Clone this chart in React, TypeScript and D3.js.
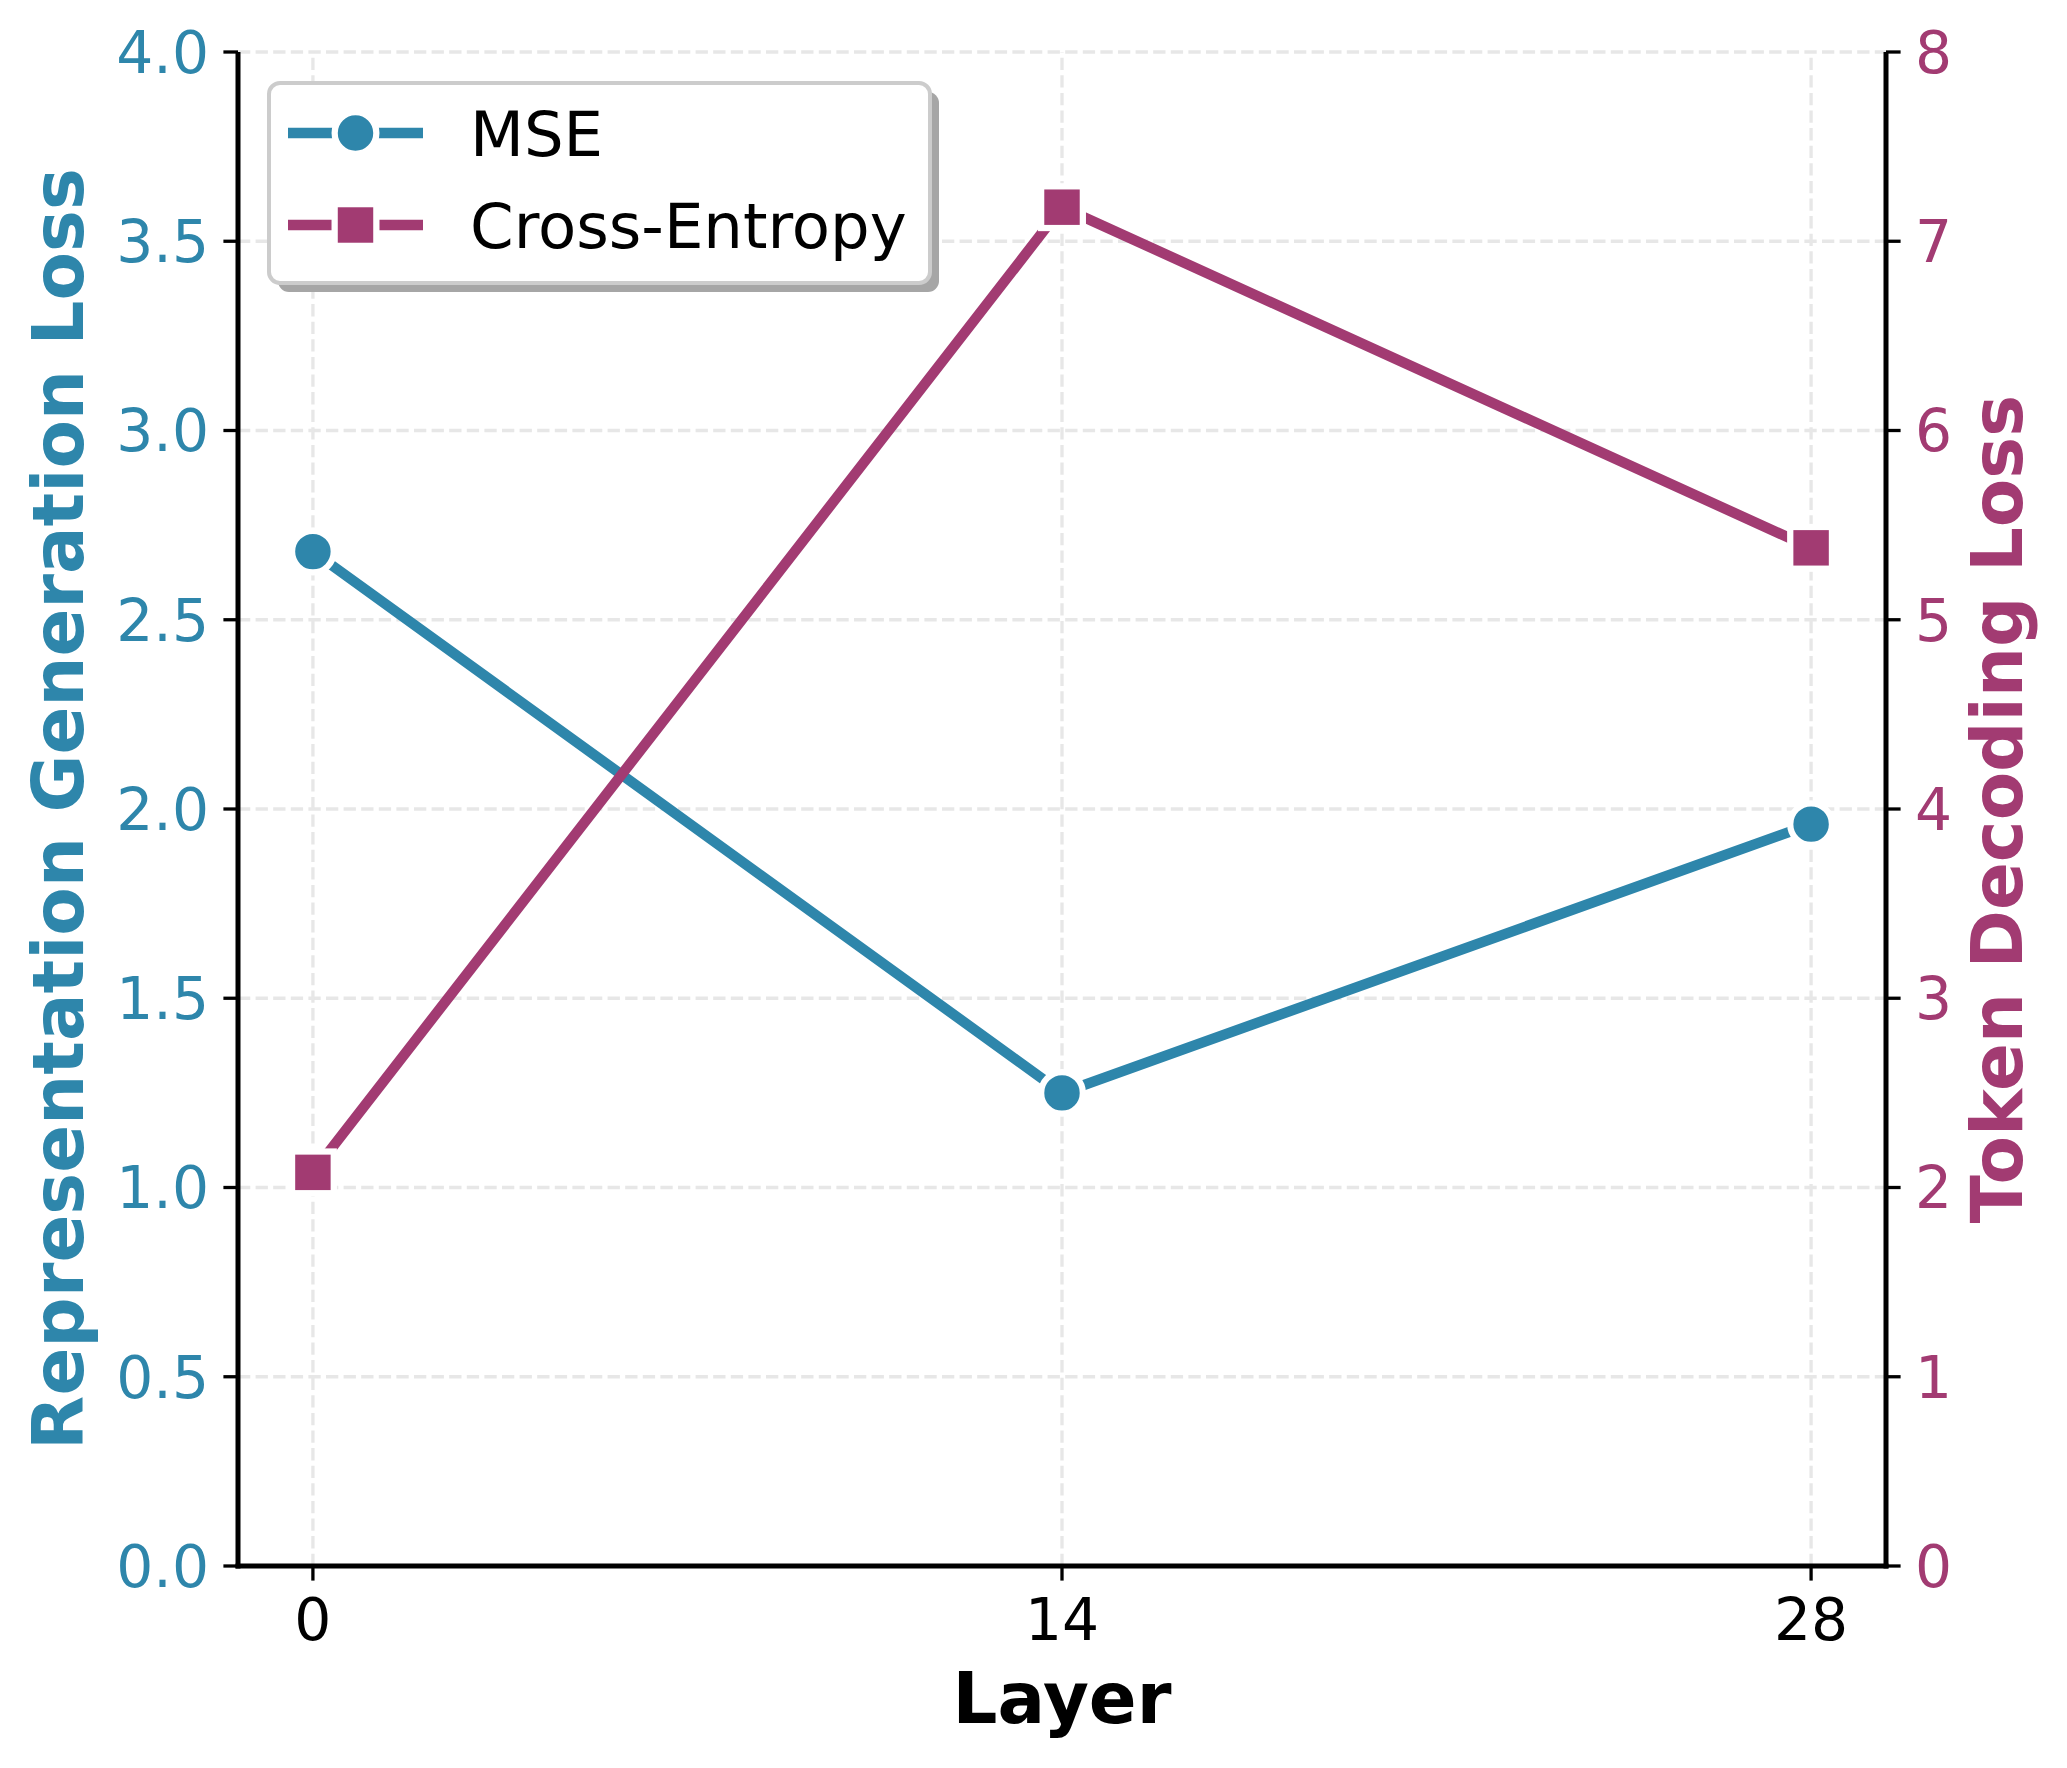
import React from 'react';
import * as d3 from 'd3';

// layer index on x, two losses on separate y axes
const layers = [0, 14, 28];
const mseLoss = [2.68, 1.25, 1.96];
const ceLoss = [2.08, 7.18, 5.38];

const leftTicks = [0, 0.5, 1, 1.5, 2, 2.5, 3, 3.5, 4];
const rightTicks = [0, 1, 2, 3, 4, 5, 6, 7, 8];

const BLUE = '#2E86AB';
const MAGENTA = '#A23B72';
const FONT = '"DejaVu Sans", sans-serif';

const W = 2067;
const H = 1768;
const margin = { top: 52, right: 181, bottom: 202, left: 238 };

const App: React.FC = () => {
  const x0 = margin.left;
  const x1 = W - margin.right;
  const y0 = H - margin.bottom;
  const y1 = margin.top;

  const x = d3.scaleLinear().domain([-1.4, 29.4]).range([x0, x1]);
  const yL = d3.scaleLinear().domain([0, 4]).range([y0, y1]);
  const yR = d3.scaleLinear().domain([0, 8]).range([y0, y1]);

  const mseLine = d3
    .line<number>()
    .x((_, i) => x(layers[i]))
    .y((d) => yL(d));
  const ceLine = d3
    .line<number>()
    .x((_, i) => x(layers[i]))
    .y((d) => yR(d));

  const tickLen = 14.6;
  const tickW = 3.3;
  const lw = 10.4;
  const ms = 41.7; // marker size
  const mew = 6.25;
  const labelSize = 70.5;

  const circle = (cx: number, cy: number, key?: string) => (
    <circle key={key} cx={cx} cy={cy} r={ms / 2} fill={BLUE} stroke="#fff" strokeWidth={mew} />
  );
  const square = (cx: number, cy: number, key?: string) => (
    <rect
      key={key}
      x={cx - ms / 2}
      y={cy - ms / 2}
      width={ms}
      height={ms}
      fill={MAGENTA}
      stroke="#fff"
      strokeWidth={mew}
    />
  );

  // legend layout
  const lg = { x: 269, y: 83, w: 661, h: 200 };
  const rows = [
    { label: 'MSE', color: BLUE, y: 133, marker: circle },
    { label: 'Cross-Entropy', color: MAGENTA, y: 225, marker: square },
  ];

  return (
    <div style={{ position: 'absolute', left: 0, top: 0 }}>
      <svg width={W} height={H} style={{ display: 'block', background: '#fff' }} fontFamily={FONT}>
        {/* grid */}
        <g stroke="#e7e7e7" strokeWidth={3.3} strokeDasharray="12.3,5.3">
          {leftTicks.map((t) => (
            <line key={'gy' + t} x1={x0} x2={x1} y1={yL(t)} y2={yL(t)} />
          ))}
          {layers.map((t) => (
            <line key={'gx' + t} x1={x(t)} x2={x(t)} y1={y0} y2={y1} />
          ))}
        </g>

        {/* lines */}
        <path d={mseLine(mseLoss) || ''} fill="none" stroke={BLUE} strokeWidth={lw} />
        <path d={ceLine(ceLoss) || ''} fill="none" stroke={MAGENTA} strokeWidth={lw} />
        {mseLoss.map((v, i) => circle(x(layers[i]), yL(v), 'm' + i))}
        {ceLoss.map((v, i) => square(x(layers[i]), yR(v), 'c' + i))}

        {/* spines */}
        <g stroke="#000" strokeWidth={5} fill="none">
          <line x1={x0} x2={x0} y1={y1} y2={y0 + 2.5} />
          <line x1={x1} x2={x1} y1={y1} y2={y0 + 2.5} />
          <line x1={x0 - 2.5} x2={x1 + 2.5} y1={y0} y2={y0} />
        </g>

        {/* left axis */}
        {leftTicks.map((t) => (
          <g key={'lt' + t}>
            <line x1={x0 - tickLen} x2={x0} y1={yL(t)} y2={yL(t)} stroke="#000" strokeWidth={tickW} />
            <text x={x0 - 29} y={yL(t)} dy="0.36em" textAnchor="end" fontSize={58.3} fill={BLUE}>
              {t.toFixed(1)}
            </text>
          </g>
        ))}

        {/* right axis */}
        {rightTicks.map((t) => (
          <g key={'rt' + t}>
            <line x1={x1} x2={x1 + tickLen} y1={yR(t)} y2={yR(t)} stroke="#000" strokeWidth={tickW} />
            <text x={x1 + 29} y={yR(t)} dy="0.36em" textAnchor="start" fontSize={58.3} fill={MAGENTA}>
              {t}
            </text>
          </g>
        ))}

        {/* bottom axis */}
        {layers.map((t) => (
          <g key={'bt' + t}>
            <line x1={x(t)} x2={x(t)} y1={y0} y2={y0 + tickLen} stroke="#000" strokeWidth={tickW} />
            <text x={x(t)} y={1640} textAnchor="middle" fontSize={58.3} fill="#000">
              {t}
            </text>
          </g>
        ))}

        {/* axis labels */}
        <text x={(x0 + x1) / 2} y={1723} textAnchor="middle" fontSize={labelSize} fontWeight="bold" fill="#000">
          Layer
        </text>
        <text
          transform={`translate(83,${(y0 + y1) / 2}) rotate(-90)`}
          textAnchor="middle"
          fontSize={labelSize}
          fontWeight="bold"
          fill={BLUE}
        >
          Representation Generation Loss
        </text>
        <text
          transform={`translate(2022,${(y0 + y1) / 2}) rotate(-90)`}
          textAnchor="middle"
          fontSize={labelSize}
          fontWeight="bold"
          fill={MAGENTA}
        >
          Token Decoding Loss
        </text>

        {/* legend */}
        <rect x={lg.x + 9} y={lg.y + 9} width={lg.w} height={lg.h} rx={11} fill="#a6a6a6" />
        <rect x={lg.x} y={lg.y} width={lg.w} height={lg.h} rx={11} fill="#fff" stroke="#cccccc" strokeWidth={4} />
        {rows.map((r) => (
          <g key={r.label}>
            <line x1={288} x2={423} y1={r.y} y2={r.y} stroke={r.color} strokeWidth={lw} />
            {r.marker(355.5, r.y)}
            <text x={470} y={r.y} dy="0.36em" fontSize={62.5} fill="#000">
              {r.label}
            </text>
          </g>
        ))}
      </svg>
    </div>
  );
};

export default App;
